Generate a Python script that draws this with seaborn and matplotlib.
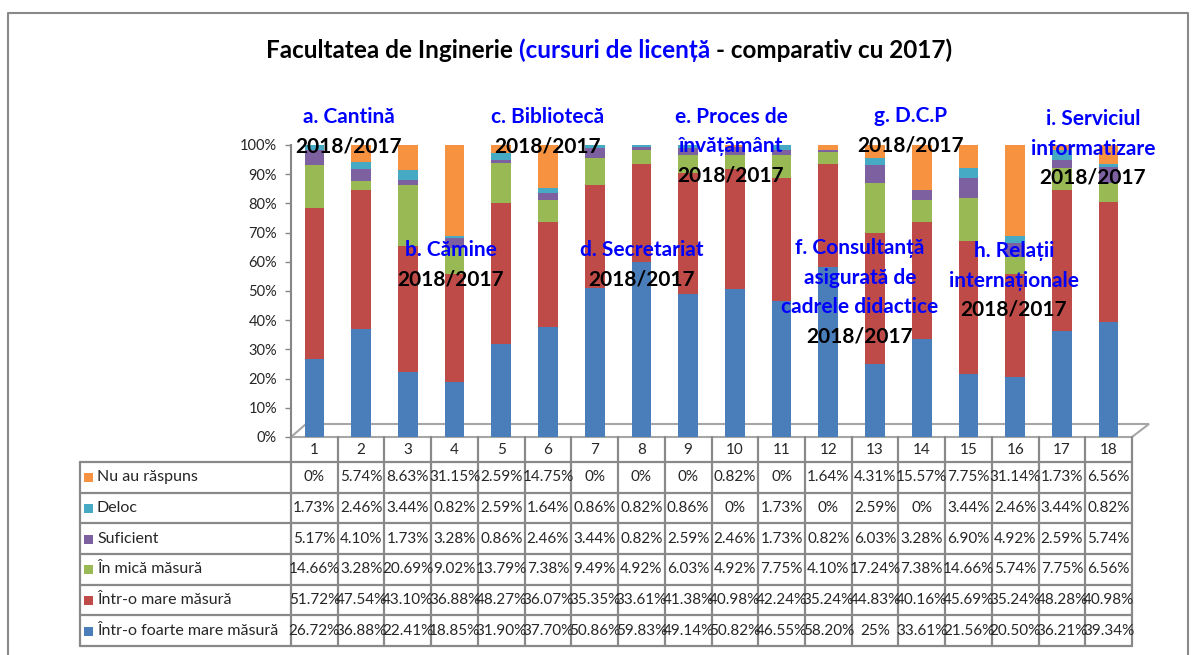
import numpy as np
import pandas as pd
import matplotlib
matplotlib.use('Agg')
import matplotlib.pyplot as plt
import seaborn as sns
from matplotlib.patches import Polygon, Rectangle
from matplotlib.lines import Line2D

# date citite din tabelul graficului
coloane = [str(i) for i in range(1, 19)]

nu_au_raspuns = [0, 5.74, 8.63, 31.15, 2.59, 14.75, 0, 0, 0, 0.82, 0, 1.64, 4.31, 15.57, 7.75, 31.14, 1.73, 6.56]
deloc = [1.73, 2.46, 3.44, 0.82, 2.59, 1.64, 0.86, 0.82, 0.86, 0, 1.73, 0, 2.59, 0, 3.44, 2.46, 3.44, 0.82]
suficient = [5.17, 4.10, 1.73, 3.28, 0.86, 2.46, 3.44, 0.82, 2.59, 2.46, 1.73, 0.82, 6.03, 3.28, 6.90, 4.92, 2.59, 5.74]
mica_masura = [14.66, 3.28, 20.69, 9.02, 13.79, 7.38, 9.49, 4.92, 6.03, 4.92, 7.75, 4.10, 17.24, 7.38, 14.66, 5.74, 7.75, 6.56]
mare_masura = [51.72, 47.54, 43.10, 36.88, 48.27, 36.07, 35.35, 33.61, 41.38, 40.98, 42.24, 35.24, 44.83, 40.16, 45.69, 35.24, 48.28, 40.98]
foarte_mare = [26.72, 36.88, 22.41, 18.85, 31.90, 37.70, 50.86, 59.83, 49.14, 50.82, 46.55, 58.20, 25, 33.61, 21.56, 20.50, 36.21, 39.34]

# ordinea randurilor din tabel (de sus in jos)
categorii = ['Nu au răspuns', 'Deloc', 'Suficient', 'În mică măsură',
             'Într-o mare măsură', 'Într-o foarte mare măsură']
culori = ['#F69240', '#46AAC5', '#7D60A0', '#98B954', '#BE4B48', '#4A7EBB']

etichete = ['a. Cantină', 'b. Cămine', 'c. Bibliotecă', 'd. Secretariat',
            'e. Proces de\nînvățământ', 'f. Consultanță\nasigurată de\ncadrele didactice',
            'g. D.C.P', 'h. Relații\ninternaționale', 'i. Serviciul\ninformatizare']
an_comparatie = '2018/2017'
# pozitia (x, y) in pixeli a primului rand din fiecare eticheta
pozitii_etichete = [(349, 117), (451, 250), (548, 117), (642, 250), (731, 117),
                    (860, 248), (911, 116), (1014, 251), (1093, 119)]

W, H = 1197, 655
def fx(px):
    return px / W
def fy(py):
    return 1 - py / H

sns.set_theme(style='white')
plt.rcParams['font.family'] = ['Lato', 'Noto Sans', 'DejaVu Sans']

fig = plt.figure(figsize=(W / 100, H / 100), dpi=100)

X0, X1 = 291, 1132      # marginile tabelului / axei
Y0, Y100 = 437, 145
ax = fig.add_axes([fx(X0), fy(Y0), fx(X1) - fx(X0), fy(Y100) - fy(Y0)])
ax.patch.set_alpha(0)

df = pd.DataFrame(dict(zip(categorii, [nu_au_raspuns, deloc, suficient, mica_masura,
                                       mare_masura, foarte_mare])), index=coloane)
stiva = categorii[::-1]                # de jos in sus
cumul = df[stiva].cumsum(axis=1)
culoare_cat = dict(zip(categorii, culori))

# bare suprapuse: totalul cumulat desenat primul, apoi straturile inferioare
for cat in categorii:
    sns.barplot(x=coloane, y=cumul[cat].values, color=culoare_cat[cat], width=0.42,
                saturation=1, errorbar=None, ax=ax, linewidth=0)

ax.set_xlim(-0.5, len(coloane) - 0.5)
ax.set_ylim(0, 100)
ax.set_yticks(range(0, 101, 10))
ax.set_yticklabels([f'{t}%' for t in range(0, 101, 10)])
ax.set_xlabel('')
ax.set_ylabel('')
ax.tick_params(axis='x', bottom=False, labelbottom=False)
ax.tick_params(axis='y', left=True, length=4, width=1, color='#868686', labelsize=10.5, pad=6)
for s in ['top', 'right', 'bottom']:
    ax.spines[s].set_visible(False)
ax.spines['left'].set_color('#868686')
ax.spines['left'].set_linewidth(1.5)

# podeaua 3D
podea = Polygon([(fx(X0), fy(437)), (fx(X0 + 15), fy(424)), (fx(X1 + 17), fy(424)), (fx(X1), fy(437))],
                closed=True, facecolor='white', edgecolor='#A6A6A6', lw=1.5,
                transform=fig.transFigure, zorder=-1)
fig.patches.append(podea)

# chenarul exterior
gri = '#898989'
fig.add_artist(Line2D([fx(8), fx(8), fx(1188), fx(1188)], [fy(700), fy(13), fy(13), fy(700)],
                      color=gri, lw=1.5, transform=fig.transFigure))

# tabelul de date
col_w = (X1 - X0) / len(coloane)
rand_h = (646 - 462) / len(categorii)
TL = 80
linii = dict(color=gri, lw=1.6, transform=fig.transFigure)
for i in range(len(coloane) + 1):
    xp = X0 + i * col_w
    fig.add_artist(Line2D([fx(xp), fx(xp)], [fy(437), fy(646)], **linii))
fig.add_artist(Line2D([fx(TL), fx(TL)], [fy(462), fy(646)], **linii))
for j in range(len(categorii) + 1):
    yp = 462 + j * rand_h
    fig.add_artist(Line2D([fx(TL), fx(X1)], [fy(yp), fy(yp)], **linii))

for i, c in enumerate(coloane):
    fig.text(fx(X0 + (i + 0.5) * col_w), fy(450), c, ha='center', va='center', fontsize=11)


def fmt(v):
    return f'{int(v)}%' if float(v).is_integer() else f'{v:.2f}%'


for j, cat in enumerate(categorii):
    yc = 462 + (j + 0.5) * rand_h
    fig.patches.append(Rectangle((fx(84), fy(yc + 5)), 9 / W, 9 / H, facecolor=culori[j],
                                 edgecolor='none', transform=fig.transFigure))
    fig.text(fx(97), fy(yc), cat, ha='left', va='center', fontsize=11.5)
    for i, v in enumerate(df[cat].values):
        fig.text(fx(X0 + (i + 0.5) * col_w), fy(yc), fmt(v), ha='center', va='center', fontsize=11)

# etichetele categoriilor
pas = 29.5
for txt, (xp, yp) in zip(etichete, pozitii_etichete):
    randuri = txt.split('\n')
    for k, r in enumerate(randuri):
        fig.text(fx(xp), fy(yp + k * pas), r, ha='center', va='center', fontsize=15,
                 fontweight='bold', color='#0000FF')
    fig.text(fx(xp), fy(yp + len(randuri) * pas), an_comparatie, ha='center', va='center',
             fontsize=15, fontweight='bold', color='black')

# titlul in trei culori
parti = [('Facultatea de Inginerie', 'black'), ('(cursuri de licență', '#0000FF'),
         ('- comparativ cu 2017)', 'black')]
marime_titlu = 17.5
renderer = fig.canvas.get_renderer()
obiecte = [fig.text(0, fy(50), p, color=c, fontsize=marime_titlu, fontweight='bold', va='center')
           for p, c in parti]
t1 = fig.text(0, 0, 'x x', fontsize=marime_titlu, fontweight='bold')
t2 = fig.text(0, 0, 'xx', fontsize=marime_titlu, fontweight='bold')
spatiu = t1.get_window_extent(renderer).width - t2.get_window_extent(renderer).width
t1.remove()
t2.remove()
latimi = [o.get_window_extent(renderer).width for o in obiecte]
total = sum(latimi) + spatiu * (len(obiecte) - 1)
x = 609 - total / 2
for o, w in zip(obiecte, latimi):
    o.set_x(fx(x))
    x += w + spatiu

fig.savefig('out.png', dpi=100)
